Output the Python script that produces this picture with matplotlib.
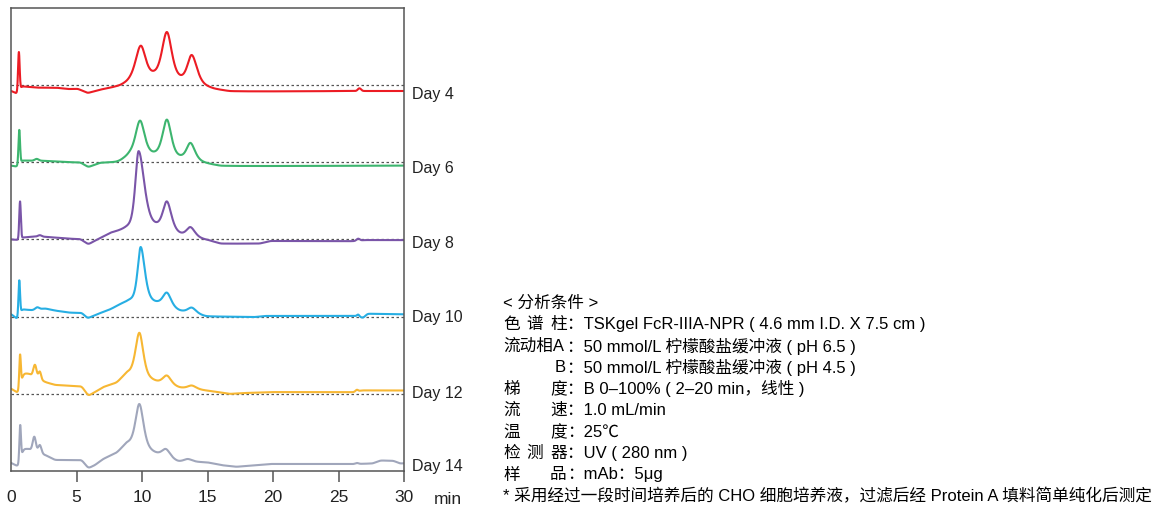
import numpy as np
import matplotlib
matplotlib.use("Agg")
import matplotlib.pyplot as plt

# time axis of the chromatograms (min)
TIME_MIN = np.linspace(0, 30, 3001)

DAYS = ["Day 4", "Day 6", "Day 8", "Day 10", "Day 12", "Day 14"]
COLORS = ["#ec1c24", "#3db56f", "#7a55a8", "#27aee3", "#f7b733", "#a0a6bb"]

# Readings (signal relative to its dotted zero line).
# *_BASE:   (time, signal) at baseline / valley points
# *_PEAKS:  (retention time, apex signal, left half-width, right half-width)
# *_SPIKES: (time, apex signal, sigma) for narrow features
D4_BASE = [(0, -6), (0.45, -6), (0.8, -2), (2.0, -2.6), (3.5, -2.8), (4.4, -4),
           (5.1, -4), (5.85, -7.7), (6.8, -4.7), (8.3, 0), (9.1, 9.3),
           (10.9, 14.3), (13.0, 10), (15.5, -3.3), (16.7, -6), (26.0, -6),
           (27.2, -6), (30, -6)]
D4_PEAKS = [(9.9, 39.3, 0.48, 0.45), (11.9, 53, 0.45, 0.45), (13.8, 30, 0.4, 0.48)]
D4_SPIKES = [(0.6, 33, 0.06), (26.6, -3.3, 0.12)]

D6_BASE = [(0, -3.4), (0.45, -3.4), (0.8, 1.6), (1.6, 1.6), (2.5, 1.4), (4.5, 0),
           (5.3, -0.5), (5.9, -4.4), (6.8, -0.7), (8.0, 0.6), (8.3, 2),
           (9.05, 11), (11.0, 11), (13.0, 7.3), (14.8, 0), (16.0, -3.4), (30, -3.4)]
D6_PEAKS = [(9.85, 41.6, 0.42, 0.42), (11.9, 42.6, 0.4, 0.4), (13.7, 19.3, 0.36, 0.42)]
D6_SPIKES = [(0.63, 32.3, 0.06), (1.96, 3.3, 0.15)]

D8_BASE = [(0, 0), (0.5, 0), (0.85, 2.7), (1.7, 2.7), (2.7, 2.5), (4.5, 0.7),
           (5.3, 0), (5.9, -4.3), (6.5, -0.7), (7.6, 6.7), (8.8, 13.3),
           (11.1, 17.3), (12.9, 7.3), (15.1, -0.7), (16.0, -4), (19.0, -4),
           (19.8, -1.7), (26.1, -1.7), (27.0, -0.7), (30, -0.7)]
D8_PEAKS = [(9.74, 88.3, 0.3, 0.52), (11.9, 38, 0.38, 0.42), (13.7, 12.3, 0.36, 0.42)]
D8_SPIKES = [(0.69, 38, 0.06), (2.2, 4.2, 0.15), (26.5, 0.7, 0.12)]

D10_BASE = [(0, 2.3), (0.5, 2.3), (0.8, 6.6), (1.6, 6.6), (2.6, 8), (3.4, 6),
            (4.5, 4), (5.4, 3.3), (5.85, -1), (6.5, 2), (7.56, 7.3), (8.4, 13),
            (9.0, 17), (11.2, 15.6), (12.9, 6.6), (14.9, 0.6), (16.2, 0),
            (18.6, -0.4), (19.4, 0.6), (26.2, 0.6), (26.9, -0.7), (27.2, 2.3),
            (30, 2.3)]
D10_PEAKS = [(9.9, 69.6, 0.28, 0.38), (11.9, 24, 0.38, 0.4), (13.8, 9, 0.38, 0.42)]
D10_SPIKES = [(0.63, 36.3, 0.06), (2.0, 9.3, 0.15), (26.5, 2, 0.1)]

D12_BASE = [(0, 5), (0.55, 5), (0.94, 18.3), (1.35, 20), (2.65, 11.7), (3.36, 9),
            (5.4, 6.7), (5.9, -1), (6.4, 1.7), (7.05, 6.7), (8.07, 11.7),
            (8.83, 21.7), (11.25, 13.3), (12.9, 6.7), (14.94, 3.3), (16.2, 1),
            (16.7, 0), (17.7, 0.7), (19.8, 1.7), (26.1, 1.7), (26.8, 3.3), (30, 3.3)]
D12_PEAKS = [(9.8, 61, 0.36, 0.36), (11.9, 18.3, 0.38, 0.4), (13.8, 8.3, 0.38, 0.42)]
D12_SPIKES = [(0.69, 39.3, 0.06), (1.83, 29, 0.12), (2.2, 22.3, 0.1), (26.4, 4, 0.1)]

D14_BASE = [(0, 8), (0.55, 8), (0.94, 20.3), (1.35, 22), (2.72, 15.3), (3.36, 11.3),
            (5.4, 10.3), (5.9, 3.7), (6.4, 6), (7.05, 12), (8.07, 18.7),
            (8.83, 28.7), (11.25, 18.7), (12.77, 10.3), (14.94, 8.7), (16.0, 6),
            (17.2, 4.3), (19.8, 7), (26.1, 7), (27.6, 7.7), (28.2, 10.3),
            (29.2, 10), (29.7, 7.7), (30, 7.7)]
D14_PEAKS = [(9.8, 67, 0.36, 0.38), (11.83, 22, 0.38, 0.4), (13.5, 12, 0.38, 0.42)]
D14_SPIKES = [(0.7, 46, 0.06), (1.78, 34.3, 0.12), (2.2, 26, 0.12), (26.4, 8, 0.12)]

TRACES = [
    (D4_BASE, D4_PEAKS, D4_SPIKES),
    (D6_BASE, D6_PEAKS, D6_SPIKES),
    (D8_BASE, D8_PEAKS, D8_SPIKES),
    (D10_BASE, D10_PEAKS, D10_SPIKES),
    (D12_BASE, D12_PEAKS, D12_SPIKES),
    (D14_BASE, D14_PEAKS, D14_SPIKES),
]

XTICKS = [0, 5, 10, 15, 20, 25, 30]

COND_TITLE = "< 分析条件 >"
COND_LABELS = ["色谱柱", "流动相A", "B", "梯度", "流速", "温度", "检测器", "样品"]
COND_VALUES = [
    "TSKgel FcR-IIIA-NPR ( 4.6 mm I.D. X 7.5 cm )",
    "50 mmol/L 柠檬酸盐缓冲液 ( pH 6.5 )",
    "50 mmol/L 柠檬酸盐缓冲液 ( pH 4.5 )",
    "B 0–100% ( 2–20 min，线性 )",
    "1.0 mL/min",
    "25℃",
    "UV ( 280 nm )",
    "mAb：5μg",
]
COND_NOTE = "* 采用经过一段时间培养后的 CHO 细胞培养液，过滤后经 Protein A 填料简单纯化后测定"

W, H = 1161, 510


def peak_shape(t, t0, wl, wr, eta=0.6):
    """Pseudo-Voigt with separate half-widths on each side."""
    w = np.where(t < t0, wl, wr)
    u = (t - t0) / w
    return eta / (1.0 + u ** 2) + (1 - eta) * np.exp(-np.log(2) * u ** 2)


def build_trace(base, peaks, spikes, t=TIME_MIN):
    """Baseline through the read points plus peak shapes, scaled so the
    curve passes through every reading."""
    cols, anchors, targets = [], [], []
    bt = np.array([b[0] for b in base], dtype=float)
    kernel = np.exp(-0.5 * (np.arange(-40, 41) / 10.0) ** 2)
    kernel /= kernel.sum()
    eye = np.eye(len(base))
    for k, (tk, vk) in enumerate(base):
        hat = np.interp(t, bt, eye[k])
        hat = np.convolve(np.pad(hat, 40, mode="edge"), kernel, mode="valid")
        cols.append(hat)
        anchors.append(tk)
        targets.append(vk)
    for t0, apex, wl, wr in peaks:
        cols.append(peak_shape(t, t0, wl, wr))
        anchors.append(t0)
        targets.append(apex)
    for t0, apex, s in spikes:
        cols.append(np.exp(-0.5 * ((t - t0) / s) ** 2))
        anchors.append(t0)
        targets.append(apex)
    basis = np.column_stack(cols)
    idx = np.round(np.array(anchors) / (t[1] - t[0])).astype(int)
    coef = np.linalg.solve(basis[idx], np.array(targets, dtype=float))
    return basis @ coef


def px(x, y):
    return x / W, 1 - y / H


def main() -> None:
    plt.rcParams.update({
        "font.family": ["Liberation Sans", "Noto Sans CJK SC", "DejaVu Sans"],
        "axes.edgecolor": "#555555",
        "axes.linewidth": 1.1,
        "xtick.color": "#555555",
        "xtick.labelcolor": "#222222",
    })

    fig = plt.figure(figsize=(W / 100, H / 100), dpi=100)
    ax = fig.add_axes([11 / W, (H - 472) / H, (404 - 11) / W, 463 / H])

    spacing = 77.2
    n = len(TRACES)
    for i, (day, color, (base, peaks, spikes)) in enumerate(zip(DAYS, COLORS, TRACES)):
        off = (n - 1 - i) * spacing
        y = off + build_trace(base, peaks, spikes)
        if i < n - 1:
            ax.axhline(off, color="#555555", lw=0.9, ls=(0, (2, 2)), zorder=1)
        ax.plot(TIME_MIN, y, color=color, lw=1.5, zorder=2)
        ax.annotate(day, xy=(30, y[-1]), xytext=(6, -1.5), textcoords="offset points",
                    ha="left", va="center", fontsize=11.5, color="#222222",
                    annotation_clip=False)

    ax.set_xlim(0, 30)
    ax.set_ylim(0, 463)
    ax.set_yticks([])
    ax.set_xticks(XTICKS)
    ax.tick_params(axis="x", direction="out", length=8, width=1.1, pad=5, labelsize=12.5)
    ax.xaxis.get_major_ticks()[0].tick1line.set_visible(False)
    fig.text(*px(448, 500), "min", ha="center", va="center", fontsize=12.5, color="#222222")

    # analysis conditions block
    fs = 12
    x0, colon_x, y0, pitch = 503, 567, 303, 21.5
    fig.text(*px(x0, y0), COND_TITLE, ha="left", va="center", fontsize=fs)
    for r, (lab, val) in enumerate(zip(COND_LABELS, COND_VALUES)):
        yy = y0 + (r + 1) * pitch
        if len(lab) == 1:
            fig.text(*px(colon_x - 1, yy), lab, ha="right", va="center", fontsize=fs)
        elif lab[-1].isascii():
            fig.text(*px(x0, yy), lab, ha="left", va="center", fontsize=fs)
        else:
            step = 47 / (len(lab) - 1)
            for c, ch in enumerate(lab):
                fig.text(*px(x0 + c * step, yy), ch, ha="left", va="center", fontsize=fs)
        fig.text(*px(colon_x, yy), "：" + val, ha="left", va="center", fontsize=fs)
    fig.text(*px(x0, y0 + 9 * pitch), COND_NOTE, ha="left", va="center", fontsize=fs)

    fig.savefig("out.png", dpi=100)


if __name__ == "__main__":
    main()
